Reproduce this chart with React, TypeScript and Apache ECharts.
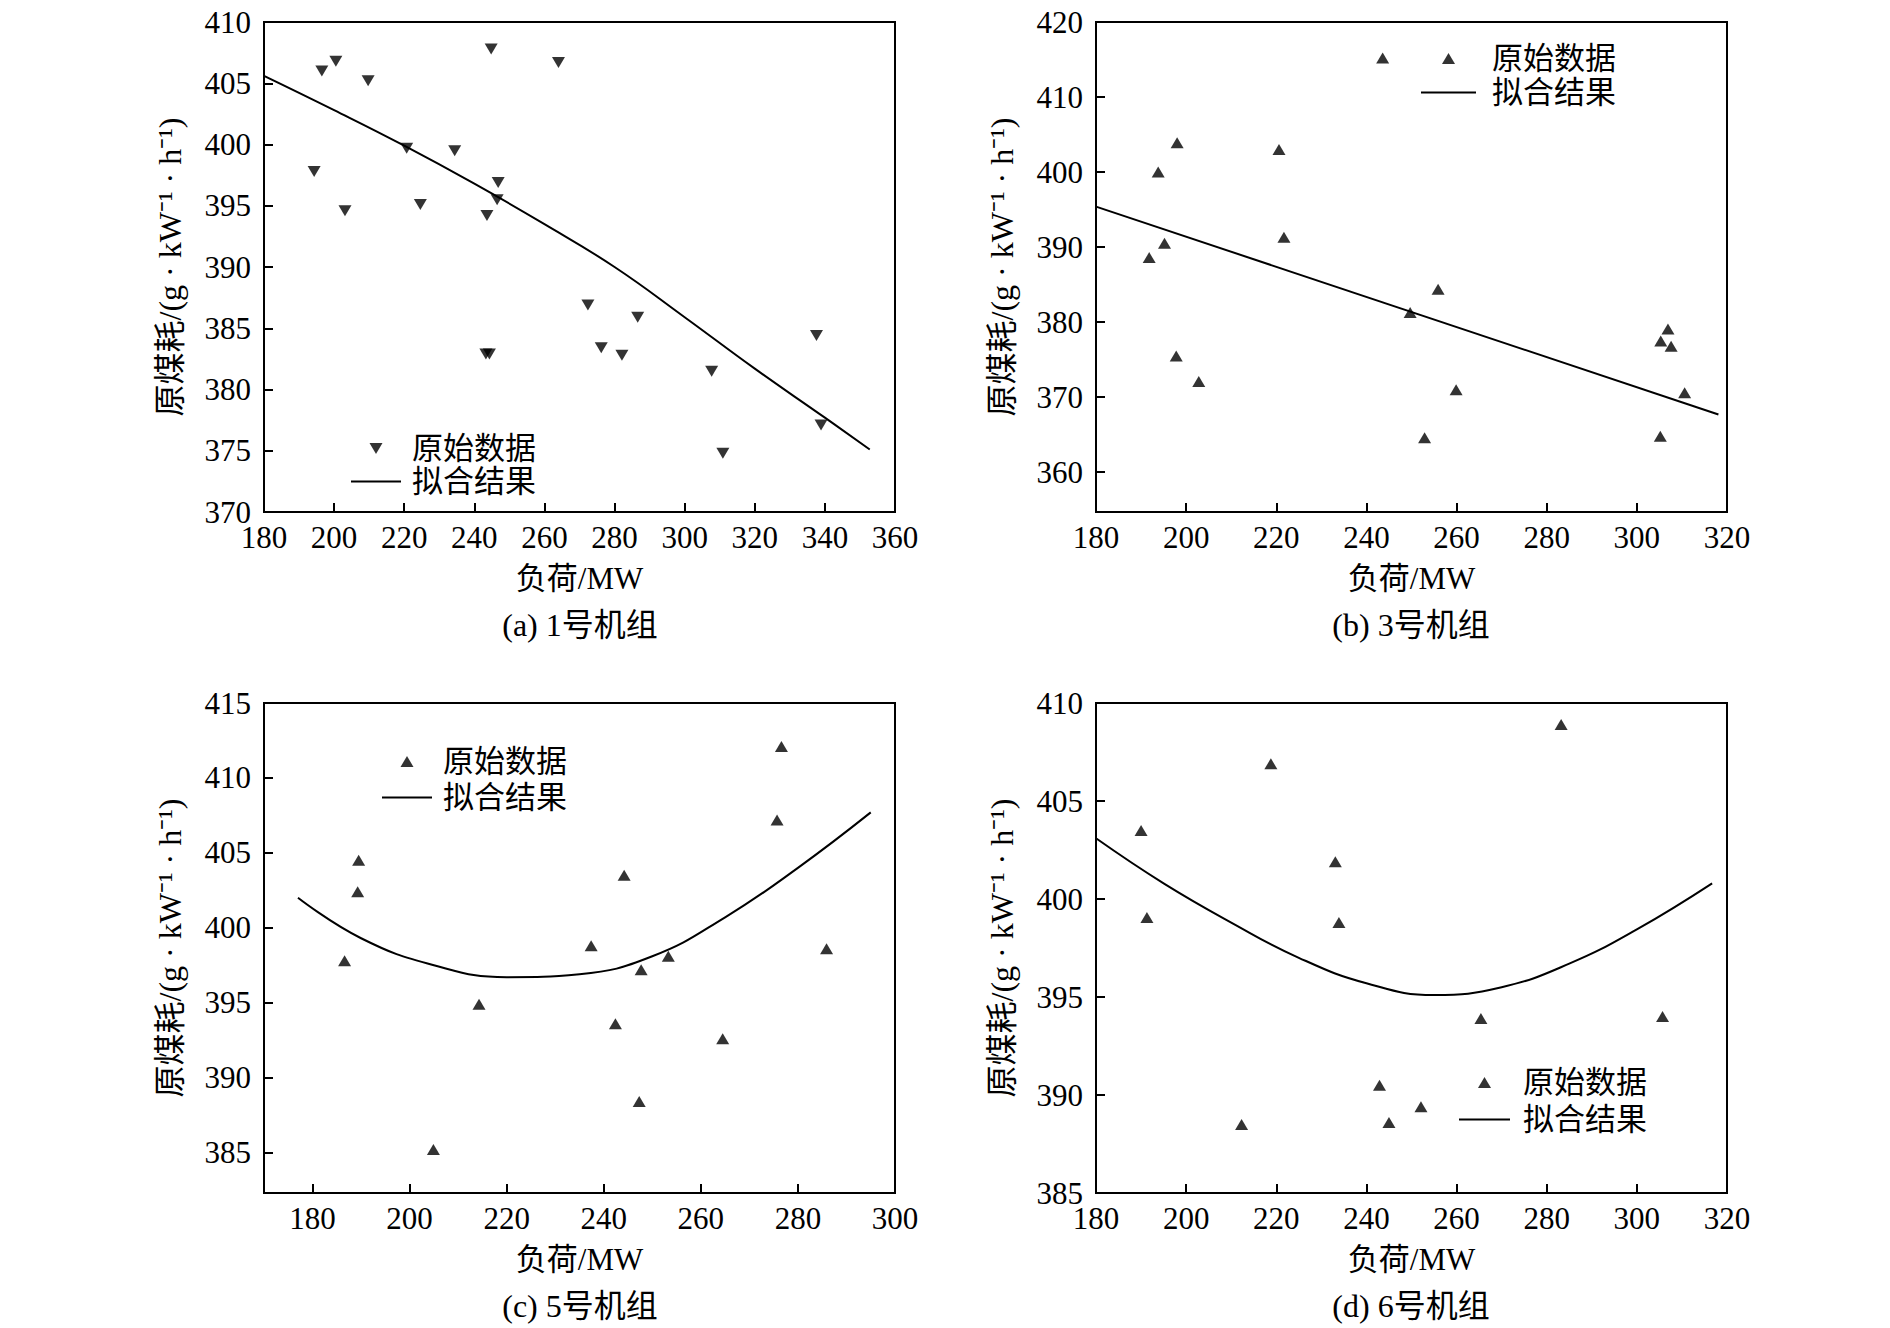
import React, { useEffect, useRef } from "react";
import * as echarts from "echarts";

// ---- Unit 1 (a) ----
const u1Load = [194.3, 196.5, 200.5, 203.1, 209.7, 220.7, 224.6, 234.4, 243.3, 244.3, 243.6, 244.8, 246.5, 246.8, 264.0, 272.4, 276.2, 282.1, 286.6, 307.7, 310.9, 337.6, 338.9];
const u1Coal = [397.8, 406.0, 406.8, 394.6, 405.2, 399.7, 395.1, 399.5, 382.9, 382.9, 394.2, 407.8, 395.5, 396.9, 406.7, 386.9, 383.4, 382.8, 385.9, 381.5, 374.8, 384.4, 377.1];
const u1FitLoad = [180, 200, 220, 240, 260, 280, 300, 320, 340, 352.8];
const u1FitCoal = [405.6, 402.8, 399.9, 396.8, 393.5, 390.0, 385.9, 381.7, 377.7, 375.1];

// ---- Unit 3 (b) ----
const u3Load = [191.8, 193.8, 195.2, 198.0, 197.8, 202.8, 220.6, 221.7, 243.6, 249.7, 252.9, 255.9, 259.9, 305.3, 306.9, 307.6, 305.2, 310.6];
const u3Coal = [388.6, 400.0, 390.5, 403.9, 375.5, 372.1, 403.0, 391.3, 415.2, 381.3, 364.6, 384.4, 371.0, 377.5, 379.1, 376.8, 364.8, 370.6];
const u3FitLoad = [180, 318.1];
const u3FitCoal = [395.4, 367.7];

// ---- Unit 5 (c) ----
const u5Load = [186.6, 189.5, 189.3, 204.9, 214.3, 237.4, 242.4, 244.2, 247.3, 247.7, 253.3, 264.5, 275.7, 276.6, 285.9];
const u5Coal = [397.8, 404.5, 402.4, 385.2, 394.9, 398.8, 393.6, 403.5, 388.4, 397.2, 398.1, 392.6, 407.2, 412.1, 398.6];
const u5FitLoad = [177, 190, 205, 220, 235, 250, 265, 280, 295];
const u5FitCoal = [402.0, 399.3, 397.5, 396.7, 396.9, 398.1, 400.7, 404.0, 407.7];

// ---- Unit 6 (d) ----
const u6Load = [190.0, 191.3, 212.3, 218.8, 233.1, 233.9, 242.9, 245.0, 252.1, 265.4, 283.2, 305.7];
const u6Coal = [403.5, 399.05, 388.5, 406.9, 401.9, 398.8, 390.5, 388.6, 389.4, 393.9, 408.9, 394.0];
const u6FitLoad = [180, 195, 210, 225, 240, 255, 270, 285, 300, 316.7];
const u6FitCoal = [403.1, 400.8, 398.8, 397.0, 395.7, 395.1, 395.5, 396.7, 398.45, 400.8];

// ---- Axis ticks / texts ----
const xTicksC = [180, 200, 220, 240, 260, 280, 300];
const yTicksB = [360, 370, 380, 390, 400, 410, 420];
const yTicksC = [385, 390, 395, 400, 405, 410, 415];
const captions = ["(a) 1号机组", "(b) 3号机组", "(c) 5号机组", "(d) 6号机组"];
const xName = "负荷/MW";
const yName = "原煤耗/(g · kW⁻¹ · h⁻¹)";
const rawName = "原始数据";
const fitName = "拟合结果";

const FONT = '"Liberation Serif", "Times New Roman", "Noto Sans CJK SC", serif';

const zip = (a: number[], b: number[]) => a.map((v, i) => [v, b[i]]);

export default function App() {
  const ref = useRef<HTMLDivElement>(null);
  useEffect(() => {
    if (!ref.current) return;
    const chart = echarts.init(ref.current, null, { renderer: "svg" });

    const grids = [
      { left: 264, top: 22, width: 631, height: 490 },
      { left: 1096, top: 22, width: 631, height: 490 },
      { left: 264, top: 703, width: 631, height: 490 },
      { left: 1096, top: 703, width: 631, height: 490 },
    ].map((g) => ({ ...g, show: true, borderColor: "#000", borderWidth: 2, backgroundColor: "transparent" }));

    const axisCommon = {
      type: "value" as const,
      splitLine: { show: false },
      axisLine: { show: true, onZero: false, lineStyle: { color: "#000", width: 2 } },
      axisTick: { show: true, inside: true, length: 9, lineStyle: { color: "#000", width: 2 } },
    };
    const labelCommon = { color: "#000", fontSize: 31, fontFamily: FONT };
    const nameStyle = { color: "#000", fontSize: 31, fontFamily: FONT };

    const mkX = (i: number, min: number, max: number, custom?: number[]) => ({
      ...axisCommon,
      gridIndex: i,
      min,
      max,
      ...(custom ? {} : { interval: 20 }),
      axisTick: { ...axisCommon.axisTick, ...(custom ? { customValues: custom } : {}) },
      axisLabel: { ...labelCommon, margin: 10, ...(custom ? { customValues: custom } : {}) },
      name: xName,
      nameLocation: "middle",
      nameGap: 51,
      nameTextStyle: nameStyle,
    });
    const mkY = (i: number, min: number, max: number, interval: number, custom?: number[]) => ({
      ...axisCommon,
      gridIndex: i,
      min,
      max,
      ...(custom ? {} : { interval }),
      axisTick: { ...axisCommon.axisTick, ...(custom ? { customValues: custom } : {}) },
      axisLabel: { ...labelCommon, margin: 13, ...(custom ? { customValues: custom } : {}) },
      name: yName,
      nameLocation: "middle",
      nameGap: 78,
      nameTextStyle: { ...nameStyle, fontSize: 32 },
    });

    const xAxes = [mkX(0, 180, 360), mkX(1, 180, 320), mkX(2, 170, 300, xTicksC), mkX(3, 180, 320)];
    const yAxes = [
      mkY(0, 370, 410, 5),
      mkY(1, 354.7, 420, 10, yTicksB),
      mkY(2, 382.3, 415, 5, yTicksC),
      mkY(3, 385, 410, 5),
    ];

    const sets = [
      { l: u1Load, c: u1Coal, fl: u1FitLoad, fc: u1FitCoal, rot: 180 },
      { l: u3Load, c: u3Coal, fl: u3FitLoad, fc: u3FitCoal, rot: 0 },
      { l: u5Load, c: u5Coal, fl: u5FitLoad, fc: u5FitCoal, rot: 0 },
      { l: u6Load, c: u6Coal, fl: u6FitLoad, fc: u6FitCoal, rot: 0 },
    ];
    const series: any[] = [];
    sets.forEach((s, i) => {
      series.push({
        type: "scatter",
        name: rawName + "#" + i,
        xAxisIndex: i,
        yAxisIndex: i,
        data: zip(s.l, s.c),
        symbol: "triangle",
        symbolSize: [13, 11],
        symbolRotate: s.rot,
        itemStyle: { color: "#000" },
        silent: true,
      });
      series.push({
        type: "line",
        name: fitName + "#" + i,
        xAxisIndex: i,
        yAxisIndex: i,
        data: zip(s.fl, s.fc),
        smooth: 0.45,
        symbol: "none",
        lineStyle: { color: "#000", width: 2 },
        itemStyle: { color: "#000" },
        silent: true,
      });
    });

    const legendPos = [
      { left: 351, top: 433, itemWidth: 50, itemGap: 2, pad: 6, down: true },
      { left: 1421, top: 43, itemWidth: 55, itemGap: 3, pad: 11, down: false },
      { left: 382, top: 746, itemWidth: 50, itemGap: 5, pad: 6, down: false },
      { left: 1459, top: 1067, itemWidth: 51, itemGap: 6, pad: 8, down: false },
    ];
    const legends = legendPos.map((p, i) => ({
      orient: "vertical",
      left: p.left,
      top: p.top,
      itemWidth: p.itemWidth,
      itemHeight: 11,
      itemGap: p.itemGap,
      padding: 0,
      symbolKeepAspect: true,
      selectedMode: false,
      data: [
        {
          name: rawName + "#" + i,
          icon: p.down ? "path://M0,0L13,0L6.5,11Z" : "path://M6.5,0L13,11L0,11Z",
          itemStyle: { color: "#000" },
        },
        {
          name: fitName + "#" + i,
          icon: `path://M0,0L${p.itemWidth},0L${p.itemWidth},2L0,2Z`,
          itemStyle: { color: "#000" },
        },
      ],
      formatter: (n: string) => n.split("#")[0],
      textStyle: { color: "#000", fontSize: 31, lineHeight: 31, fontFamily: FONT, padding: [0, 0, 0, p.pad] },
    }));

    const capPos = [
      [580, 625],
      [1411, 625],
      [580, 1306],
      [1411, 1306],
    ];
    const graphic = captions.map((t, i) => ({
      type: "text",
      x: capPos[i][0],
      y: capPos[i][1],
      silent: true,
      style: {
        text: t,
        fill: "#000",
        font: `32px ${FONT}`,
        textAlign: "center",
        textVerticalAlign: "middle",
      },
    }));

    chart.setOption({
      animation: false,
      backgroundColor: "#fff",
      grid: grids,
      xAxis: xAxes,
      yAxis: yAxes,
      legend: legends,
      series,
      graphic,
    });
    return () => chart.dispose();
  }, []);
  return <div ref={ref} style={{ position: "absolute", left: 0, top: 0, width: 1890, height: 1328 }} />;
}
